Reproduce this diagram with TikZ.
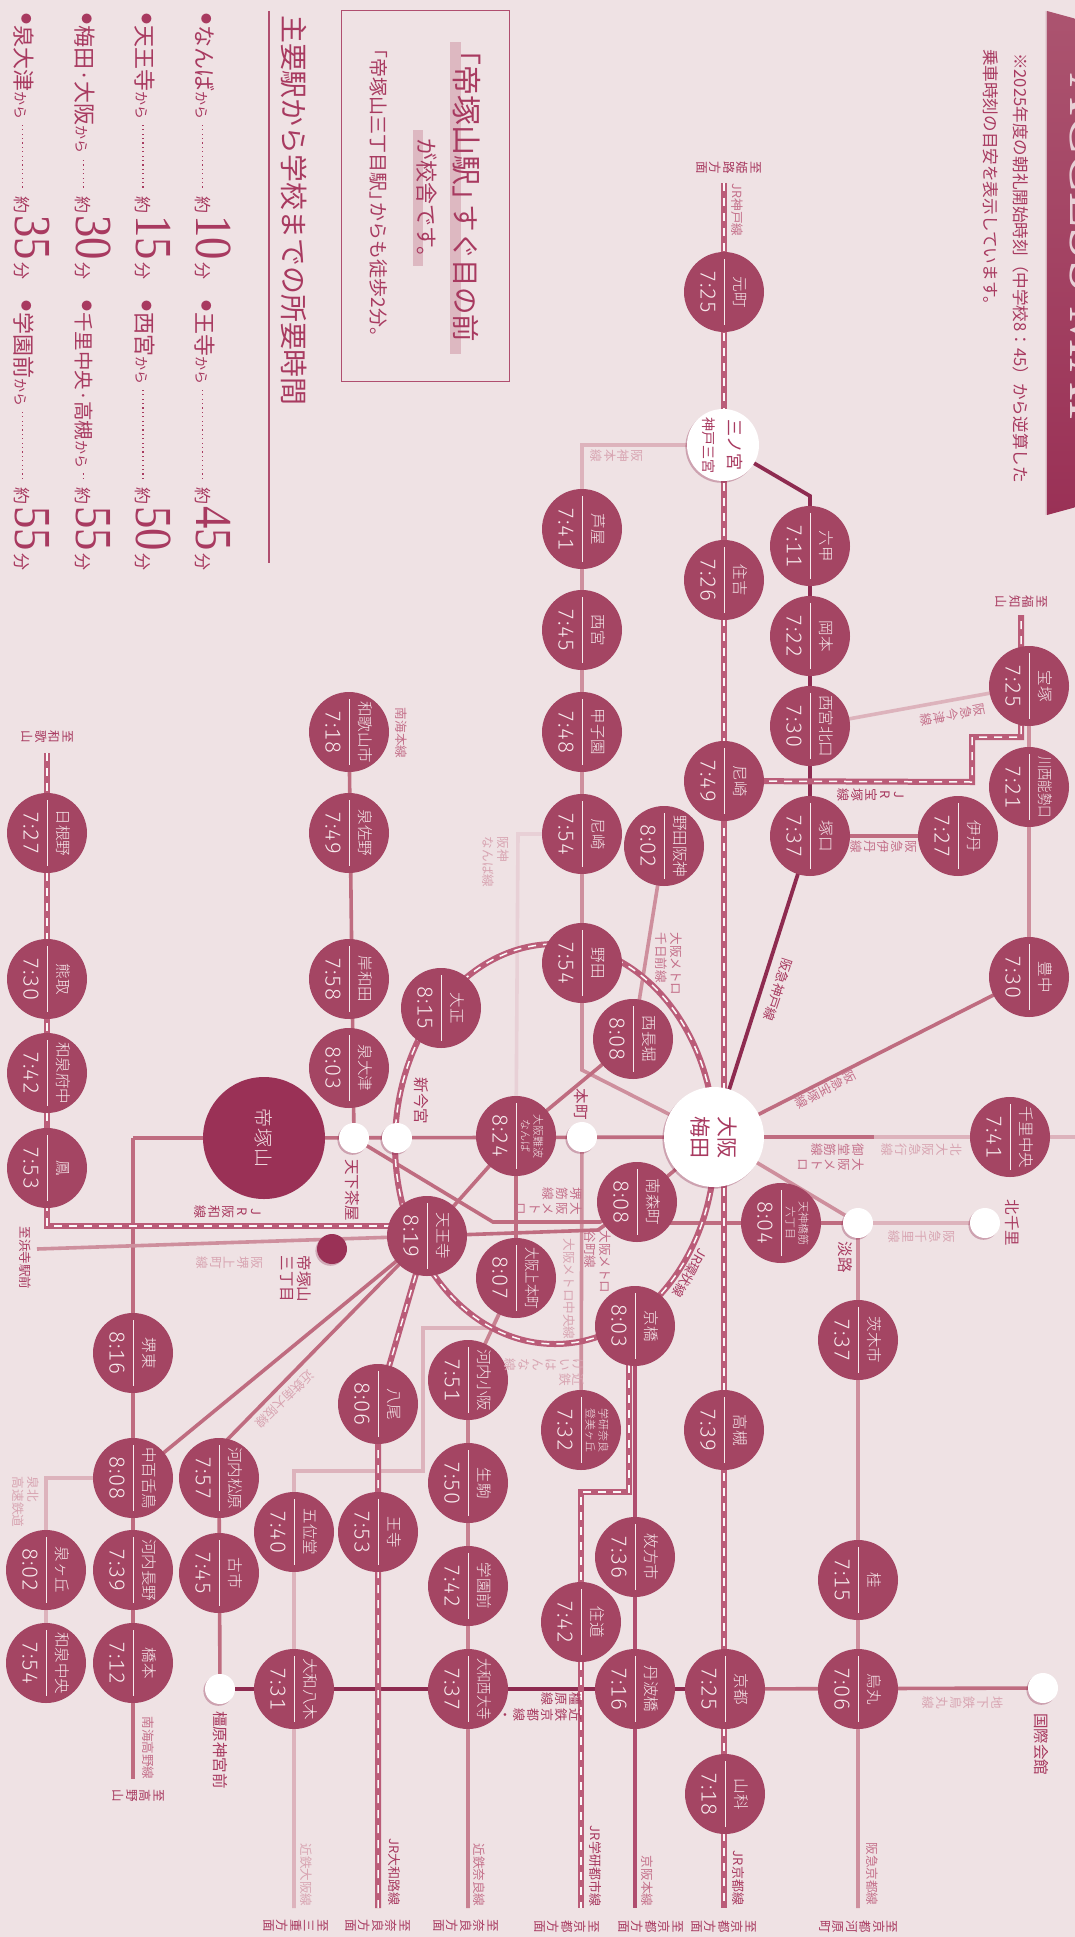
\documentclass[tikz,border=0pt]{standalone}
\usepackage{fontspec}
\usepackage{graphicx}
\setmainfont{Noto Sans CJK JP}
\newfontfamily\stnf{Noto Sans CJK JP Light}
\newfontfamily\digf{Liberation Serif}
\newfontfamily\timef[UprightFont=* Light,Numbers=Monospaced,LetterSpace=5]{Fira Sans}
\usetikzlibrary{shadows}
\definecolor{bgc}{HTML}{EFE2E4}
\definecolor{stf}{HTML}{A44563}
\definecolor{darkc}{HTML}{9A3156}
\definecolor{lnD}{HTML}{8E2B50}
\definecolor{lnK}{HTML}{B04E6F}
\definecolor{lnM}{HTML}{BF6C80}
\definecolor{lnN}{HTML}{CE8F9D}
\definecolor{lnL}{HTML}{DDB3BC}
\definecolor{lnP}{HTML}{E8D0D6}
\definecolor{lnJ}{HTML}{BA5C78}
\definecolor{tdark}{HTML}{A83A60}
\definecolor{tmid}{HTML}{C4708A}
\definecolor{tlight}{HTML}{D8A5B2}
\definecolor{hil}{HTML}{DDB8C1}
\definecolor{tw}{HTML}{F7EAED}
\pgfdeclarelayer{bg}\pgfsetlayers{bg,main}
\newsavebox\fitbox
\newcount\lcnt
\makeatletter
\newcommand\vcol[1]{\vtop{\offinterlineskip\@tfor\@vx:=#1\do{\hbox to 1em{\vrule height .86em depth .14em width 0pt\hss\@vx\hss}\vskip .08em}}}
\makeatother
\newcommand\vcc[2]{\hbox{\vcol{#2}\hskip .2em\vcol{#1}}}
\newcommand\fitw[2]{\sbox\fitbox{#2}\ifdim\wd\fitbox>#1\relax\resizebox{#1}{\height}{\usebox\fitbox}\else\usebox\fitbox\fi}
\newcommand\tlines[2]{\shortstack[c]{\fontsize{11}{12.5}\selectfont #1\\\fontsize{11}{12.5}\selectfont #2}}
\newcommand\stn[5]{\node[stc] (#1) at (#2,#3) {};
 \draw[stdiv] ([yshift=33pt]#1.center) -- ([yshift=-33pt]#1.center);
 \node[sttxt,font=\fontsize{15.5}{17}\stnf] (#1n) at ([xshift=16pt]#1.center) {\fitw{62pt}{#4}};
 \node[sttxt,font=\fontsize{21.5}{21.5}\timef] (#1t) at ([xshift=-16pt]#1.center) {#5};}
\newcommand\lab[5][-90]{\global\advance\lcnt by 1 \node[rotate=#1,inner sep=0pt,#4] (lb\the\lcnt) at (#2,#3) {#5};}
\newcommand\dotrun{\leaders\hbox to 4.4pt{\hss\rule[6pt]{1.3pt}{1.3pt}\hss}\hfill}
\newcommand\lrow[7]{\global\advance\lcnt by 1 \node[rotate=-90,anchor=base west,inner sep=0pt,text=tdark] (lb\the\lcnt) at (#1,#2) {\hbox to #3{\fontsize{11}{11}\selectfont\raisebox{6pt}{●}\hskip 1pt\fontsize{#5}{#5}\selectfont #4\fontsize{14}{14}\selectfont から\hskip 1pt\dotrun\hskip 3pt\fontsize{17}{17}\selectfont 約\hskip 2pt\fontsize{52}{52}\digf\scalebox{.86}[1]{#6}\hskip 2pt\fontsize{17}{17}\rmfamily\selectfont 分}};}
\tikzset{
 stc/.style={circle,fill=stf,minimum size=80pt,inner sep=0pt,draw=none},
 stdiv/.style={draw=tw,line width=.9pt},
 sttxt/.style={rotate=-90,inner sep=0pt,text=tw,align=center},
 whc/.style={circle,fill=white,inner sep=0pt,drop shadow={shadow xshift=-1.6pt,shadow yshift=-1.8pt,fill=lnD,opacity=.35}},
 sw/.style={minimum size=30pt},
 ln/.style={line width=3.6pt,line join=miter},
 dl/.style={line width=6pt,draw=lnJ},
 dw/.style={line width=1.5pt,draw=white!92!lnL,dash pattern=on 8pt off 7pt},
 ld/.style={text=tdark,font=\fontsize{13}{14.5}\selectfont,align=left},
 lm/.style={text=tmid,font=\fontsize{12.6}{14.5}\selectfont,align=left},
 ll/.style={text=tlight,font=\fontsize{12.6}{14.5}\selectfont,align=left},
 st/.style={text=tdark,font=\fontsize{15.5}{17}\selectfont,align=left},
 en/.style={text=tdark,font=\fontsize{12.5}{14}\selectfont},
}
\newcommand\dashline[1]{\draw[dl] #1; \draw[dw] #1;}
\begin{document}
\begin{tikzpicture}[x=1pt,y=-1pt]
\useasboundingbox (0,0) rectangle (1075,1937);
\begin{pgfonlayer}{bg}
\fill[bgc] (0,0) rectangle (1075,1937);
\end{pgfonlayer}
% ribbon
\begin{scope}
\clip (0,0) rectangle (1075,1937);
\fill[lnD,opacity=.25] (1045.5,11) -- (1075,20) -- (1075,506) -- (1045.5,515) -- cycle;
\shade[top color=stf!92!white,bottom color=darkc] (1047,11) -- (1080,20) -- (1080,506) -- (1047,515) -- cycle;
\node[rotate=-90,anchor=base west,inner sep=0pt,text=lnP,font=\fontsize{58}{58}\digf] (ribbontext) at (1070,73) {ACCESS MAP};
\end{scope}
\lab[-90]{1020.5}{268}{text=tdark,font=\fontsize{16.6}{18}\selectfont}{※2025年度の朝礼開始時刻（中学校8：45）から逆算した}
\global\advance\lcnt by 1
\node[rotate=-90,anchor=west,inner sep=0pt,text=tdark,font=\fontsize{16.6}{18}\selectfont] (noteb) at (991,49) {乗車時刻の目安を表示しています。};
% info box
\node[draw=lnK,line width=1pt,minimum width=168pt,minimum height=370pt,inner sep=0pt] (infobox) at (425,196) {};
\fill[hil] (450,42) rectangle (461,354);
\fill[hil] (413,130) rectangle (423,266);
\node[rotate=-90,anchor=west,inner sep=0pt,text=tdark,font=\fontsize{30}{32}\selectfont] (it1) at (467,35) {「帝塚山駅」\hskip-.35em\fontsize{27.5}{32}\selectfont すぐ目の前};
\node[rotate=-90,anchor=west,inner sep=0pt,text=tdark,font=\fontsize{22}{25}\selectfont] (it2) at (427,138) {が校舎です。};
\node[rotate=-90,anchor=west,inner sep=0pt,text=tdark,font=\fontsize{19}{20}\selectfont] (it3) at (379,39) {「帝塚山三丁目駅」\hskip-.4em からも徒歩2分。};
\node[rotate=-90,anchor=west,inner sep=0pt,text=tdark,font=\fontsize{27.9}{29}\selectfont] (it4) at (294.5,15) {主要駅から学校までの所要時間};
\coordinate (ruleA) at (269,11); \coordinate (ruleB) at (269,563);
\draw[lnK,line width=1.4pt] (ruleA) -- (ruleB);
\lrow{196}{13}{266pt}{なんば}{22}{10}{}
\lrow{136.4}{13}{266pt}{天王寺}{22}{15}{}
\lrow{76.5}{13}{266pt}{梅田·大阪}{22}{30}{}
\lrow{16}{13}{266pt}{泉大津}{22}{35}{}
\lrow{196}{300}{270pt}{王寺}{22}{45}{}
\lrow{136.4}{300}{270pt}{西宮}{22}{50}{}
\lrow{76.5}{300}{270pt}{千里中央·高槻}{19.5}{55}{}
\lrow{16}{300}{270pt}{学園前}{22}{55}{}
% stations
\stn{motomachi}{724}{292}{元町}{7:25}
\stn{sumiyoshi}{724}{580}{住吉}{7:26}
\stn{rokko}{810}{546}{六甲}{7:11}
\stn{ashiya}{582}{529}{芦屋}{7:41}
\stn{nishinomiya}{582}{630}{西宮}{7:45}
\stn{koshien}{582}{732}{甲子園}{7:48}
\stn{amah}{582}{834}{尼崎}{7:54}
\stn{noda}{582}{963}{野田}{7:54}
\stn{okamoto}{810}{636}{岡本}{7:22}
\stn{kitaguchi}{810}{726}{西宮北口}{7:30}
\stn{amaj}{724}{781}{尼崎}{7:49}
\stn{tsukaguchi}{810}{836}{塚口}{7:37}
\stn{itami}{958}{836}{伊丹}{7:27}
\stn{takarazuka}{1029}{686}{宝塚}{7:25}
\stn{kawanishi}{1029}{787}{川西能勢口}{7:21}
\stn{toyonaka}{1029}{977}{豊中}{7:30}
\stn{nodahan}{664}{846}{野田阪神}{8:02}
\stn{nishinaga}{633}{1039}{西長堀}{8:08}
\stn{senri}{1010}{1137}{千里中央}{7:41}
\stn{minami}{637}{1202}{南森町}{8:08}
\stn{tenroku}{781}{1223}{\tlines{天神橋筋}{六丁目}}{8:04}
\stn{wakayama}{349}{732}{和歌山市}{7:18}
\stn{izumisano}{349}{833}{泉佐野}{7:49}
\stn{kishiwada}{349}{979}{岸和田}{7:58}
\stn{izumiotsu}{349}{1068}{泉大津}{8:03}
\stn{hineno}{47}{833}{日根野}{7:27}
\stn{kumatori}{47}{979}{熊取}{7:30}
\stn{fuchu}{47}{1073}{和泉府中}{7:42}
\stn{otori}{47}{1168}{鳳}{7:53}
\stn{taisho}{441}{1008}{大正}{8:15}
\stn{namba}{516}{1136}{\tlines{大阪難波}{なんば}}{8:24}
\stn{tennoji}{427}{1236}{天王寺}{8:19}
\stn{uehon}{516}{1278}{大阪上本町}{8:07}
\stn{sakaihigashi}{133}{1353}{堺東}{8:16}
\stn{nakamozu}{133}{1478}{中百舌鳥}{8:08}
\stn{nagano}{133}{1570}{河内長野}{7:39}
\stn{hashimoto}{133}{1663}{橋本}{7:12}
\stn{izumigaoka}{46}{1570}{泉ヶ丘}{8:02}
\stn{izumichuo}{46}{1663}{和泉中央}{7:54}
\stn{matsubara}{219}{1478}{河内松原}{7:57}
\stn{furuichi}{219}{1573}{古市}{7:45}
\stn{yagi}{294}{1689}{大和八木}{7:31}
\stn{goido}{294}{1532}{五位堂}{7:40}
\stn{oji}{378}{1532}{王寺}{7:53}
\stn{yao}{378}{1404}{八尾}{8:06}
\stn{kosaka}{468}{1380}{河内小阪}{7:51}
\stn{ikoma}{468}{1483}{生駒}{7:50}
\stn{gakuenmae}{468}{1586}{学園前}{7:42}
\stn{saidaiji}{468}{1689}{大和西大寺}{7:37}
\stn{kyobashi}{635}{1326}{京橋}{8:03}
\stn{gakken}{581}{1430}{\tlines{学研奈良}{登美ヶ丘}}{7:32}
\stn{takatsuki}{724}{1430}{高槻}{7:39}
\stn{hirakata}{635}{1557}{枚方市}{7:36}
\stn{suminodo}{581}{1622}{住道}{7:42}
\stn{tamba}{635}{1689}{丹波橋}{7:16}
\stn{kyoto}{725}{1689}{京都}{7:25}
\stn{yamashina}{725}{1794}{山科}{7:18}
\stn{ibaraki}{858}{1340}{茨木市}{7:37}
\stn{katsura}{858}{1580}{桂}{7:15}
\stn{karasuma}{858}{1689}{烏丸}{7:06}
% large and white stations
\node[circle,fill=darkc,minimum size=122pt,inner sep=0pt] (tezuka) at (264,1138) {};
\node[sttxt,text=tw!85!lnL,font=\fontsize{19}{20}\stnf] (tezukat) at (tezuka.center) {帝\hskip 1pt 塚\hskip 1pt 山};
\node[whc,minimum size=100pt] (umeda) at (714,1137) {};
\node[rotate=-90,inner sep=0pt,text=tdark,align=center,font=\fontsize{21}{27}\selectfont] (umedat) at (umeda.center) {大阪\\梅田};
\node[whc,minimum size=72pt] (sannomiya) at (723,445) {};
\node[rotate=-90,inner sep=0pt,text=tdark,align=center,font=\fontsize{17}{25}\selectfont] (sannomiyat) at (sannomiya.center) {三ノ宮\\\fontsize{14}{25}\selectfont 神戸三宮};
\node[whc,sw] (tenga) at (354,1138) {};
\node[whc,sw] (shinimamiya) at (397,1138) {};
\node[whc,sw] (honmachi) at (582,1137) {};
\node[whc,sw] (awaji) at (858,1223) {};
\node[whc,sw] (kitasenri) at (985,1223) {};
\node[whc,sw] (kashihara) at (220,1689) {};
\node[whc,sw] (kokusai) at (1043,1688) {};
\node[circle,fill=darkc,minimum size=30pt,inner sep=0pt,drop shadow={shadow xshift=-1.6pt,shadow yshift=-1.8pt,fill=lnD,opacity=.3}] (tezuka3) at (332,1249) {};
% free ends and corners
\foreach \n/\x/\y in {kobeT/724/183,kobeB/724/1908,hanshinC/582/445,hanshinJ/582/1070,nambaC/518/834,kinC1/492/1328,kinC2/423/1328,kinC3/423/1471,kinC4/294/1471,kinB/294/1908,naraB/468/1908,mainC/133/1138,koyaB/133/1779,midoA/874/1137,midoB/1075/1137,sakaiA/493/1222,sakaiB/600/1222,taniA/598/1230,minE/650/1223,hkyoB/858/1908,awajiC/858/1223,semC/46/1478,hanzaiL/37/1249,keihanB/635/1908,kobeC/810/496,jtC1/972/782,jtC2/972/737,jtC3/1021/737,jtT/1021/615,hwT/47/753,hwC/47/1226,hwE/405/1226,yamB/378/1908,gkA/629/1320,gkC1/629/1492,gkC2/581/1492,gkB/581/1908,loopC/555/1144,matsC/222/1445}{\coordinate (\n) at (\x,\y);}
\begin{pgfonlayer}{bg}
\draw[ln,lnP] (amah.center) -- (nambaC) -- (namba.center);
\draw[ln,lnL] (uehon.center) -- (kinC1) -- (kinC2) -- (kinC3) -- (kinC4) -- (goido.center) -- (yagi.center) -- (kinB);
\draw[ln,lnL] (sannomiya.center) -- (hanshinC) -- (ashiya.center);
\draw[ln,lnN] (ashiya.center) -- (hanshinJ) -- (umeda.center);
\draw[ln,lnN] (honmachi.center) -- (gakken.center);
\draw[ln,lnM] (namba.center) -- (uehon.center);
\draw[ln,lnN!60!lnM] (uehon.center) -- (kosaka.center) -- (ikoma.center) -- (saidaiji.center) -- (naraB);
\draw[ln,lnN] (nishinaga.center) -- (nodahan.center);
\draw[ln,lnM] (nishinaga.center) -- (namba.center) -- (tennoji.center);
\draw[ln,lnM] (mainC) -- (tezuka.center) -- (umeda.center) -- (midoA);
\draw[ln,lnL] (midoA) -- (midoB);
\draw[ln,lnM,line cap=butt] (mainC) -- (koyaB);
\draw[ln,lnM] (wakayama.center) -- (tenga.center) -- (sakaiA) -- (sakaiB) -- (minami.center);
\draw[ln,lnM] (tennoji.center) -- (taniA) -- (minami.center);
\draw[ln,lnM] (minami.center) -- (umeda.center);
\draw[ln,lnM] (minE) -- (awajiC);
\draw[ln,lnL] (awaji.center) -- (kitasenri.center);
\draw[ln,lnN] (umeda.center) -- (awaji.center) -- (hkyoB);
\draw[ln,lnM] (tennoji.center) -- (nakamozu.center);
\draw[ln,lnM] (tennoji.center) -- (matsC) -- (matsubara.center) -- (kashihara.center);
\draw[ln,lnN] (takarazuka.center) -- (toyonaka.center);
\draw[ln,lnM] (toyonaka.center) -- (umeda.center);
\draw[ln,lnL] (kitaguchi.center) -- (takarazuka.center);
\draw[ln,lnM] (tsukaguchi.center) -- (itami.center);
\draw[ln,lnL] (nakamozu.center) -- (semC) -- (izumichuo.center);
\draw[ln,lnN] (hanzaiL) -- (tennoji.center);
\draw[ln,lnM] (kyoto.center) -- (kokusai.center);
\draw[line width=4pt,lnD] (kashihara.center) -- (kyoto.center);
\draw[line width=4pt,lnK] (kyobashi.center) -- (keihanB);
\draw[line width=3.8pt,lnD] (sannomiya.center) -- (kobeC) -- (tsukaguchi.center) -- (umeda.center);
\dashline{(kobeT) -- (kobeB)}
\dashline{(amaj.center) -- (jtC1) -- (jtC2) -- (jtC3) -- (jtT)}
\dashline{(hwT) -- (hwC) -- (hwE)}
\dashline{(yamB) -- (yao.center) -- (tennoji.center)}
\dashline{(gkA) -- (gkC1) -- (gkC2) -- (gkB)}
\dashline{(loopC) ++(-160,0) arc[start angle=180,end angle=-180,x radius=160,y radius=200]}
\end{pgfonlayer}
% labels
\lab{728}{168}{en}{\vcol{至姫路方面}}
\lab{737.5}{210}{lm}{JR神戸線}
\lab{616}{456}{ll}{\vcol{阪神本線}}
\lab{496}{862}{ll}{阪神\\なんば線}
\lab{47}{737}{en}{\vcol{至和歌山}}
\lab{401}{733}{lm}{南海本線}
\lab{421}{1101}{st}{新今宮}
\lab{352}{1190}{st}{天下茶屋}
\lab{228}{1212}{ld}{\vcol{JR阪和線}}
\lab{25}{1258}{en}{至浜寺駅前}
\lab{229}{1263}{ll}{\vcol{阪堺上町線}}
\lab{296}{1279}{st}{帝塚山\\三丁目}
\lab{1021}{602}{en}{\vcol{至福知山}}
\lab[-79.4]{952}{715}{lm}{\vcol{阪急今津線}}
\lab{871}{795}{ld}{\vcol{JR宝塚線}}
\lab{883}{847}{lm}{\vcol{阪急伊丹線}}
\lab[-108.3]{778}{990}{ld}{阪急神戸線}
\lab{669}{964}{lm}{大阪メトロ\\千日前線}
\lab[-63]{825}{1090}{lm}{\vcol{阪急宝塚線}}
\lab{830}{1157}{lm}{\vcc{大阪メトロ}{御堂筋線}}
\lab{921}{1150}{ll}{\vcol{北大阪急行線}}
\lab{921}{1237}{ll}{\vcol{阪急千里線}}
\lab{1012}{1223}{st}{北千里}
\lab{845}{1257}{st}{淡路}
\lab{581}{1104}{st}{本町}
\lab{548}{1201}{lm}{\vcc{大阪メトロ}{堺筋線}}
\lab{598}{1262}{lm}{大阪メトロ\\谷町線}
\lab{569}{1289}{ll}{大阪メトロ中央線}
\lab{544}{1372}{ll}{\vcc{近鉄}{けいはんな線}}
\lab[-120]{690}{1273}{ld}{JR環状線}
\lab[-136]{285}{1399}{ll}{近鉄南大阪線}
\lab{26}{1502}{ll}{泉北\\高速鉄道}
\lab{148}{1748}{lm}{南海高野線}
\lab{138}{1796}{en}{\vcol{至高野山}}
\lab{220}{1750}{st}{橿原神宮前}
\lab{306.5}{1875}{ll}{近鉄大阪線}
\lab{394}{1872}{ld}{JR大和路線}
\lab{479}{1875}{lm}{近鉄奈良線}
\lab{295}{1926}{en}{\vcol{至三重方面}}
\lab{377}{1926}{en}{\vcol{至奈良方面}}
\lab{465}{1926}{en}{\vcol{至奈良方面}}
\lab{540}{1707}{ld}{\vcc{近鉄京都線・}{橿原線}}
\lab{566}{1927}{en}{\vcol{至京都方面}}
\lab{650}{1927}{en}{\vcol{至京都方面}}
\lab{723}{1927}{en}{\vcol{至京都方面}}
\lab{858}{1927}{en}{\vcol{至京都河原町}}
\lab{595}{1866}{ld}{JR学研都市線}
\lab{647}{1881}{lm}{京阪本線}
\lab{738}{1878}{ld}{JR京都線}
\lab{872}{1874}{lm}{阪急京都線}
\lab{962}{1703}{ll}{\vcol{地下鉄烏丸線}}
\lab{1041}{1744}{st}{国際会館}
\end{tikzpicture}
\end{document}
